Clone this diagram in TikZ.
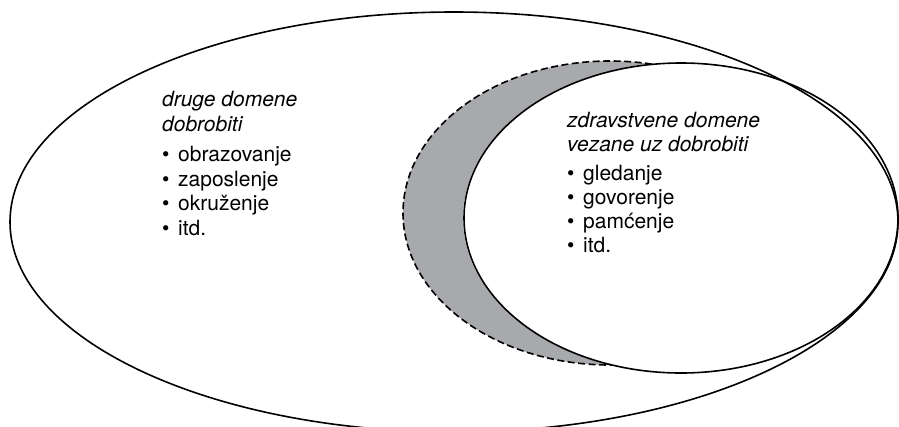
\documentclass[tikz,border=0pt]{standalone}
\usepackage{fontspec}
\setmainfont{TeX Gyre Heros}
\definecolor{crescentgray}{HTML}{A7A9AC}
\begin{document}
\begin{tikzpicture}[x=1pt,y=-1pt,
  outline/.style={line width=1.6pt, black},
  dashline/.style={line width=1.6pt, black, dash pattern=on 7pt off 3.5pt},
  txt/.style={anchor=base west, inner sep=0pt, font=\fontsize{21}{25}\selectfont},
  ttl/.style={txt, font=\fontsize{21}{25}\selectfont\itshape}]
\useasboundingbox (0,0) rectangle (899,426);
% gray crescent region (dashed ellipse)
\fill[crescentgray] (610,213) ellipse [x radius=207pt, y radius=152pt];
\draw[dashline] (610,213) ellipse [x radius=207pt, y radius=152pt];
% inner ellipse
\fill[white] (681,218) ellipse [x radius=218pt, y radius=155pt];
\draw[outline] (681,218) ellipse [x radius=217pt, y radius=155pt];
% outer ellipse
\draw[outline] (454,222) ellipse [x radius=444pt, y radius=210pt];
% left text
\node[ttl] (l1) at (162,106.7) {druge domene};
\node[ttl] (l2) at (162,131.7) {dobrobiti};
\node[txt] (l3) at (162,161.7) {\makebox[16pt][l]{•}obrazovanje};
\node[txt] (l4) at (162,186.2) {\makebox[16pt][l]{•}zaposlenje};
\node[txt] (l5) at (162,210.7) {\makebox[16pt][l]{•}okruženje};
\node[txt] (l6) at (162,235.2) {\makebox[16pt][l]{•}itd.};
% right text
\node[ttl] (r1) at (567,127.7) {zdravstvene domene};
\node[ttl] (r2) at (567,151) {vezane uz dobrobiti};
\node[txt] (r3) at (567,180) {\makebox[16pt][l]{•}gledanje};
\node[txt] (r4) at (567,204) {\makebox[16pt][l]{•}govorenje};
\node[txt] (r5) at (567,228) {\makebox[16pt][l]{•}pamćenje};
\node[txt] (r6) at (567,252) {\makebox[16pt][l]{•}itd.};
\end{tikzpicture}
\end{document}
